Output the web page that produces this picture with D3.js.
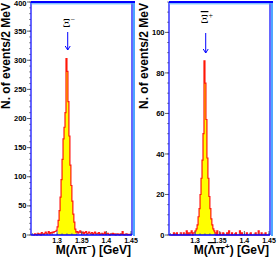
<!DOCTYPE html>
<html>
<head>
<meta charset="utf-8">
<script src="https://cdn.jsdelivr.net/npm/d3@7"></script>
<style>
  body { margin: 0; background: #fff; }
  svg { display: block; }
  text { font-family: "Liberation Sans", Arial, sans-serif; }
</style>
</head>
<body>
<div id="chart"></div>
<script>
// histogram binning: 2 MeV bins starting at 1.25 GeV
var binStart = 1.25;
var binWidth = 0.002;

// Xi- candidates, N per 2 MeV bin
var xiMinusCounts = [0,0,2,1,0,3,1,2,0,4,2,1,3,5,2,3,6,2,4,3,5,4,6,
    6,8,14,25,42,65,95,130,165,185,210,303,281,229,170,120,85,58,36,22,10,5,
    6,3,5,7,4,3,5,2,4,6,2,3,5,3,2,4,1,3,5,2,3,2,4,1,2,3,1,2,5,1,
    2,3,1,0,2,1,3,1,2,0,1,2,1,0,2,1,6,1,0,1,2,0,1,1,0];

// anti-Xi+ candidates
var xiPlusCounts = [0,0,0,1,0,0,1,0,0,0,1,0,0,1,0,0,2,0,1,0,1,2,0,1,1,
    2,3,5,9,13,20,28,37,50,86,75,57,38,28,19,13,8,5,3,2,
    1,0,2,0,0,1,0,0,1,0,0,0,1,0,2,0,0,1,0,0,0,1,0,0,0,2,0,1,0,0,
    0,0,1,0,0,0,1,0,0,0,0,1,0,0,2,0,0,1,0,0,0,1,0,0,0];

// signal window (yellow)
var sigLo = 1.302, sigHi = 1.340;
var xTicks = [1.3, 1.35, 1.4, 1.45];
var xiMass = 1.3215;

var w = 277, h = 259;
var svg = d3.select("#chart").append("svg").attr("width", w).attr("height", h);

function drawPanel(x0, x1, counts, yMax, yStep, yMinor, piSign, label) {
    var top = 2, bottom = 235;
    var xScale = d3.scaleLinear().domain([1.247, 1.452]).range([x0, x1]);
    var yScale = d3.scaleLinear().domain([0, yMax]).range([bottom, top]);
    var g = svg.append("g");

    var pts = counts.map(function(v, i) { return [binStart + i * binWidth, v]; });
    var lastEdge = binStart + counts.length * binWidth;

    // yellow signal region
    var sig = pts.filter(function(p) { return p[0] >= sigLo - 1e-9 && p[0] < sigHi - 1e-9; });
    sig.push([sigHi, sig[sig.length - 1][1]]);
    var area = d3.area().curve(d3.curveStepAfter)
        .x(function(d) { return xScale(d[0]); })
        .y0(bottom).y1(function(d) { return yScale(d[1]); });
    g.append("path").datum(sig).attr("d", area).attr("fill", "#ffff00");

    // red outline
    var line = d3.line().curve(d3.curveStepAfter)
        .x(function(d) { return xScale(Math.min(d[0], 1.452)); })
        .y(function(d) { return yScale(d[1]); });
    var outline = [[binStart, 0]].concat(pts).concat([[lastEdge, counts[counts.length - 1]]]);
    g.append("path").datum(outline).attr("d", line).attr("fill", "none")
        .attr("stroke", "#ff0000").attr("stroke-width", 1.2).attr("stroke-opacity", 0.9);

    // y axis ticks (outside) + labels
    var minors = d3.range(0, yMax + 0.001, yMinor);
    g.selectAll(".ymin").data(minors).enter().append("line")
        .attr("x1", x0 - 2).attr("x2", x0)
        .attr("y1", function(d) { return yScale(d); }).attr("y2", function(d) { return yScale(d); })
        .attr("stroke", "#777").attr("stroke-width", 0.8);
    var majors = d3.range(0, yMax + 0.001, yStep);
    g.selectAll(".ymaj").data(majors).enter().append("line")
        .attr("x1", x0 - 4).attr("x2", x0)
        .attr("y1", function(d) { return yScale(d); }).attr("y2", function(d) { return yScale(d); })
        .attr("stroke", "#555").attr("stroke-width", 0.9);
    g.selectAll(".ylab").data(majors).enter().append("text")
        .attr("x", x0 - 4.5).attr("y", function(d) { return Math.max(yScale(d) + 2.6, 6); })
        .attr("text-anchor", "end").style("font-size", "7.5px").style("font-weight", "bold")
        .text(function(d) { return d; });

    // x axis ticks (inside)
    var xMin = d3.range(1.25, 1.4505, 0.01);
    g.selectAll(".xmin").data(xMin).enter().append("line")
        .attr("x1", function(d) { return xScale(d); }).attr("x2", function(d) { return xScale(d); })
        .attr("y1", bottom).attr("y2", bottom - 2)
        .attr("stroke", "#777").attr("stroke-width", 0.8);
    g.selectAll(".xmaj").data(xTicks).enter().append("line")
        .attr("x1", function(d) { return xScale(d); }).attr("x2", function(d) { return xScale(d); })
        .attr("y1", bottom).attr("y2", bottom - 4)
        .attr("stroke", "#555").attr("stroke-width", 0.9);
    g.selectAll(".xlab").data(xTicks).enter().append("text")
        .attr("x", function(d) { return xScale(d); }).attr("y", 242.5)
        .attr("text-anchor", "middle").style("font-size", "7px").style("font-weight", "bold")
        .text(function(d) { return d; });

    // frame
    g.append("line").attr("x1", x0).attr("x2", x0).attr("y1", top).attr("y2", bottom)
        .attr("stroke", "#0000ff").attr("stroke-width", 1.2);
    g.append("line").attr("x1", x0).attr("x2", x1).attr("y1", bottom).attr("y2", bottom)
        .attr("stroke", "#0000ff").attr("stroke-width", 1.4);
    g.append("line").attr("x1", x1).attr("x2", x1).attr("y1", top).attr("y2", bottom)
        .attr("stroke", "#0000ff").attr("stroke-width", 1.2);
    g.append("line").attr("x1", x1 + 2).attr("x2", x1 + 2).attr("y1", top).attr("y2", bottom + 1)
        .attr("stroke", "#4da6ff").attr("stroke-width", 2);
    g.append("line").attr("x1", x0).attr("x2", x1 + 3).attr("y1", top).attr("y2", top)
        .attr("stroke", "#0000ff").attr("stroke-width", 2);
    g.append("line").attr("x1", x0).attr("x2", x1 + 3).attr("y1", top + 1.8).attr("y2", top + 1.8)
        .attr("stroke", "#4da6ff").attr("stroke-width", 1);

    // axis titles
    g.append("text").attr("transform", "translate(" + (x0 - 21) + ",3) rotate(-90)")
        .attr("text-anchor", "end").style("font-size", "12px").style("font-weight", "bold")
        .text("N. of events/2 MeV");
    var t = g.append("text").attr("x", x1 - 1).attr("y", 254)
        .attr("text-anchor", "end").style("font-size", "12px").style("font-weight", "bold");
    t.append("tspan").text("M(");
    var lam = t.append("tspan").text("\u039B");
    if (piSign === "+") lam.style("text-decoration", "overline");
    t.append("tspan").text("\u03C0");
    t.append("tspan").attr("dy", -5).style("font-size", "8px").text(piSign === "+" ? "+" : "\u2212");
    t.append("tspan").attr("dy", 5).text(") [GeV]");

    // particle label + arrow
    var ax = xScale(xiMass);
    var lt = g.append("text").attr("x", ax - 5).attr("y", label.y)
        .style("font-family", "'Liberation Serif', 'DejaVu Serif', serif").style("font-size", "12px");
    var xi = lt.append("tspan").text("\u039E");
    if (label.bar) xi.style("text-decoration", "overline");
    lt.append("tspan").attr("dy", -5).style("font-size", "8px").text(label.sup);
    g.append("line").attr("x1", ax).attr("x2", ax).attr("y1", label.a0).attr("y2", label.a1)
        .attr("stroke", "#0000ff").attr("stroke-width", 1);
    g.append("path").attr("d", "M" + (ax - 2.5) + "," + (label.a1 - 4) + "L" + ax + "," + label.a1 + "L" + (ax + 2.5) + "," + (label.a1 - 4))
        .attr("fill", "none").attr("stroke", "#0000ff").attr("stroke-width", 1);
}

drawPanel(31, 132, xiMinusCounts, 400, 50, 10, "-", { sup: "\u2212", bar: false, y: 27, a0: 32, a1: 50 });
drawPanel(169, 270, xiPlusCounts, 115, 20, 5, "+", { sup: "+", bar: true, y: 23, a0: 33, a1: 53 });
</script>
</body>
</html>
